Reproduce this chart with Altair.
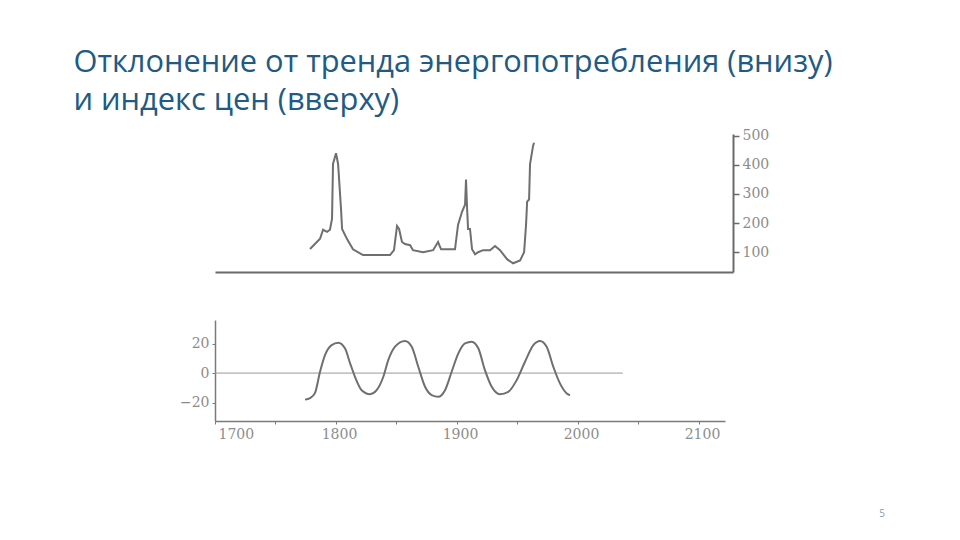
import pandas as pd
import altair as alt

# Slide title and page number
title_lines = ["Отклонение от тренда энергопотребления (внизу)", "и индекс цен (вверху)"]
page_number = ["5"]

# Upper panel: price index
price_years = [1778.5, 1786.8, 1789.3, 1792.6, 1795.0, 1796.7, 1797.5, 1800.0, 1801.7, 1804.1,
               1805.0, 1809.1, 1814.0, 1822.3, 1844.6, 1847.9, 1850.4, 1852.1, 1854.5, 1857.0,
               1861.2, 1863.6, 1871.9, 1880.2, 1884.3, 1886.8, 1891.7, 1898.3, 1900.8, 1904.1,
               1906.6, 1907.4, 1908.3, 1909.1, 1910.7, 1912.4, 1914.9, 1917.4, 1921.5, 1927.3,
               1931.4, 1935.5, 1941.3, 1946.3, 1952.1, 1955.4, 1957.0, 1957.9, 1959.5, 1960.3,
               1962.8, 1963.6]
price_index = [111, 146, 177, 170, 177, 215, 403, 440, 403, 250,
               180, 145, 110, 90, 90, 107, 190, 180, 135, 128,
               124, 107, 100, 107, 135, 110, 110, 110, 194, 239,
               263, 350, 250, 180, 180, 110, 93, 100, 107, 107,
               121, 107, 76, 62, 72, 100, 194, 274, 281, 403,
               465, 476]
price_ticks = [100, 200, 300, 400, 500]

# Lower panel: deviation from the energy consumption trend
energy_years = [1774.4, 1778.5, 1782.6, 1786.8, 1790.9, 1796.4, 1801.9, 1807.4, 1811.6, 1815.7,
                1821.2, 1828.1, 1833.6, 1839.1, 1843.2, 1848.8, 1857.0, 1862.6, 1868.0, 1873.6,
                1879.1, 1884.5, 1890.1, 1895.6, 1901.1, 1906.6, 1912.1, 1917.6, 1923.1, 1928.7,
                1935.5, 1942.4, 1949.3, 1956.2, 1963.1, 1968.6, 1974.1, 1979.6, 1985.1, 1990.7,
                1993.4]
energy_dev = [-18, -17, -13.6, 0.9, 12.2, 19, 20.6, 16.8, 6.8, -2.5,
              -11.6, -14.3, -11.6, -2.5, 8.8, 17.9, 21.8, 17.9, 4.3, -9.3,
              -15, -16.1, -11.6, 0.9, 13.4, 20.2, 21.3, 16.8, 2, -9.3,
              -14.3, -12.7, -4.8, 7.7, 19, 21.8, 17.9, 4.3, -7, -13.8,
              -15]
energy_ticks = [-20, 0, 20]
year_ticks = [1700, 1750, 1800, 1850, 1900, 1950, 2000, 2050, 2100]
zero_from = [1700]
zero_to = [2037]

price = pd.DataFrame({"year": price_years, "index": price_index})
energy = pd.DataFrame({"year": energy_years, "dev": energy_dev})
zero = pd.DataFrame({"start": zero_from, "end": zero_to, "level": [0]})
page = pd.DataFrame({"page": page_number})

line_grey = "#6f6f6f"
axis_grey = "#7a7a7a"
label_grey = "#8c8c8c"
serif = "DejaVu Serif"

upper = alt.Chart(price).mark_line(color=line_grey, strokeWidth=2).encode(
    x=alt.X("year:Q", scale=alt.Scale(domain=[1700, 2128], nice=False, zero=False),
            axis=alt.Axis(labels=False, ticks=False, title=None, grid=False,
                          domainColor="#6a6a6a", domainWidth=2)),
    y=alt.Y("index:Q", scale=alt.Scale(domain=[32, 506], nice=False, zero=False),
            axis=alt.Axis(orient="right", values=price_ticks, title=None, grid=False,
                          tickSize=6, labelPadding=3, labelFontSize=14,
                          domainColor="#6a6a6a", domainWidth=2, tickColor="#6a6a6a",
                          tickWidth=1.5))
).properties(width=518, height=138)

energy_line = alt.Chart(energy).mark_line(color=line_grey, strokeWidth=2,
                                          interpolate="monotone").encode(
    x=alt.X("year:Q", scale=alt.Scale(domain=[1700, 2121.5], nice=False, zero=False),
            axis=alt.Axis(values=year_ticks, format="d", title=None, grid=False,
                          labelExpr="datum.value % 100 == 0 ? datum.label : ''",
                          tickSize=3, labelPadding=3, labelFontSize=14, labelOffset=3,
                          domainColor=axis_grey, domainWidth=1.5, tickColor=axis_grey)),
    y=alt.Y("dev:Q", scale=alt.Scale(domain=[-32.5, 36], nice=False, zero=False),
            axis=alt.Axis(values=energy_ticks, format="d", title=None, grid=False,
                          tickSize=3, labelPadding=3, labelFontSize=14,
                          domainColor=axis_grey, domainWidth=1.5, tickColor=axis_grey))
)

zero_rule = alt.Chart(zero).mark_rule(color="#9a9a9a", strokeWidth=1).encode(
    x="start:Q", x2="end:Q", y="level:Q"
)

page_text = alt.Chart(page).mark_text(font="Open Sans", fontSize=10, color="#8a9bb5",
                                      align="center", baseline="middle").encode(
    text="page:N", x=alt.value(667), y=alt.value(194)
)

lower = alt.layer(zero_rule, energy_line, page_text).properties(width=510, height=101)

chart = alt.vconcat(upper, lower, spacing=48).properties(
    title=alt.TitleParams(title_lines, anchor="start", font="Open Sans", fontSize=30.8,
                          fontWeight="normal", color="#215a83", lineHeight=38,
                          dx=-106, offset=12),
    padding={"left": 65, "top": 38, "right": 5, "bottom": 5}
).configure_view(stroke=None).configure_axis(
    labelFont=serif, labelColor=label_grey
)

chart.save("out.html", embed_options={"renderer": "svg", "actions": False})
